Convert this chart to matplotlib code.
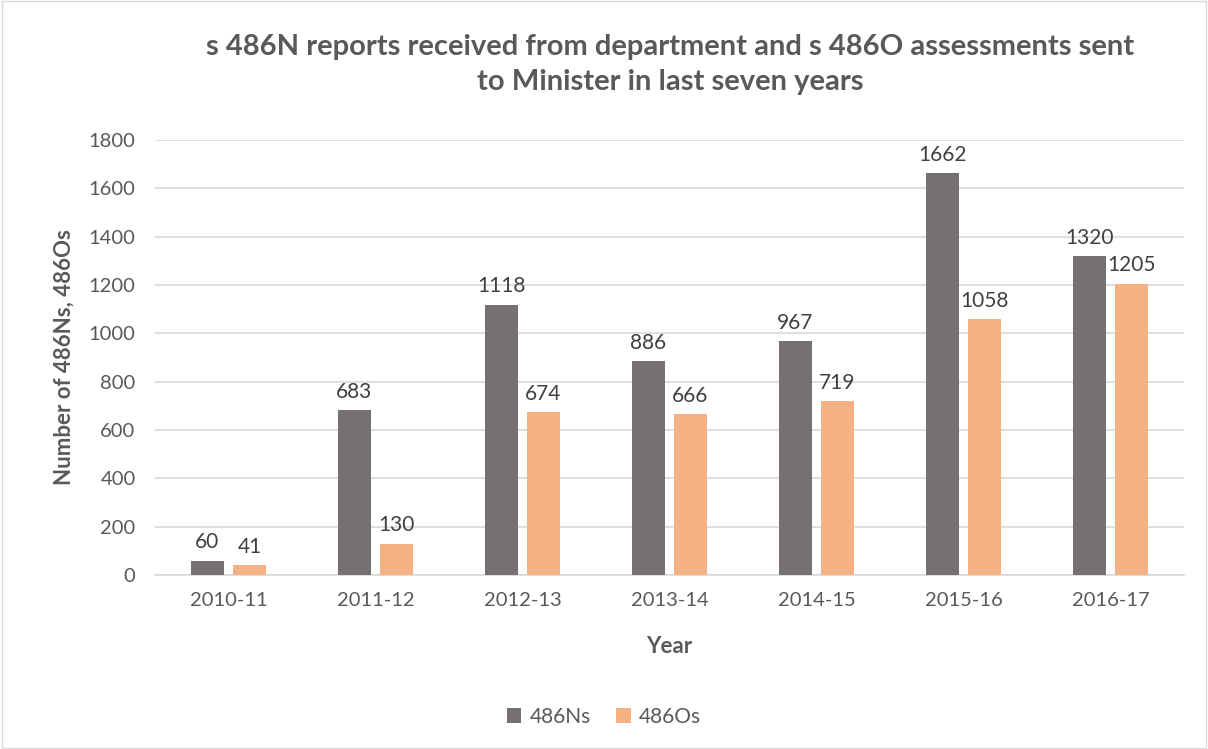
import numpy as np
import matplotlib.pyplot as plt

plt.rcParams['font.family'] = ['Lato', 'DejaVu Sans']

# 연도별 데이터
years = ['2010-11', '2011-12', '2012-13', '2013-14', '2014-15', '2015-16', '2016-17']
n_reports = [60, 683, 1118, 886, 967, 1662, 1320]
o_assessments = [41, 130, 674, 666, 719, 1058, 1205]

gray = '#767171'
orange = '#F4B183'
text_color = '#595959'

fig = plt.figure(figsize=(12.08, 7.49), dpi=100)
ax = fig.add_axes([155 / 1208, 1 - 575 / 749, 1029 / 1208, 435 / 749])

x = np.arange(len(years))
w = 0.224
bars_n = ax.bar(x - 0.143, n_reports, w, color=gray, label='486Ns', zorder=3)
bars_o = ax.bar(x + 0.143, o_assessments, w, color=orange, label='486Os', zorder=3)

for bars in (bars_n, bars_o):
    for b in bars:
        h = b.get_height()
        ax.annotate(f'{h:.0f}', (b.get_x() + b.get_width() / 2, h), xytext=(0, 6),
                    textcoords='offset points', ha='center', va='bottom',
                    fontsize=15, color='#404040')

ax.set_xlim(-0.5, len(years) - 0.5)
ax.set_ylim(0, 1800)
ax.set_yticks(range(0, 1801, 200))
ax.set_xticks(x)
ax.set_xticklabels(years)
ax.tick_params(length=0, labelsize=14.5, colors=text_color, pad=12)
ax.tick_params(axis='y', pad=14)
ax.grid(axis='y', color='#D9D9D9', linewidth=1.2, zorder=0)
for s in ['top', 'right', 'left']:
    ax.spines[s].set_visible(False)
ax.spines['bottom'].set_color('#D9D9D9')
ax.spines['bottom'].set_linewidth(1.2)

ax.set_xlabel('Year', fontsize=16, fontweight='bold', color=text_color, labelpad=20)
ax.set_ylabel('Number of 486Ns, 486Os', fontsize=16, fontweight='bold', color=text_color, labelpad=10)

fig.suptitle('s 486N reports received from department and s 486O assessments sent\nto Minister in last seven years',
             x=0.555, y=0.955, fontsize=21, fontweight='bold', color=text_color, linespacing=1.45)

fig.legend(loc='center', bbox_to_anchor=(0.5, 1 - 717 / 749), ncol=2, frameon=False,
           fontsize=15, labelcolor=text_color, handlelength=0.7, handleheight=0.7,
           columnspacing=1.2, handletextpad=0.4)

# 바깥 테두리
fig.patches.append(plt.Rectangle((0.002, 0.002), 0.996, 0.996, transform=fig.transFigure,
                                 fill=False, edgecolor='#D9D9D9', linewidth=1))

fig.savefig('out.png', dpi=100)
